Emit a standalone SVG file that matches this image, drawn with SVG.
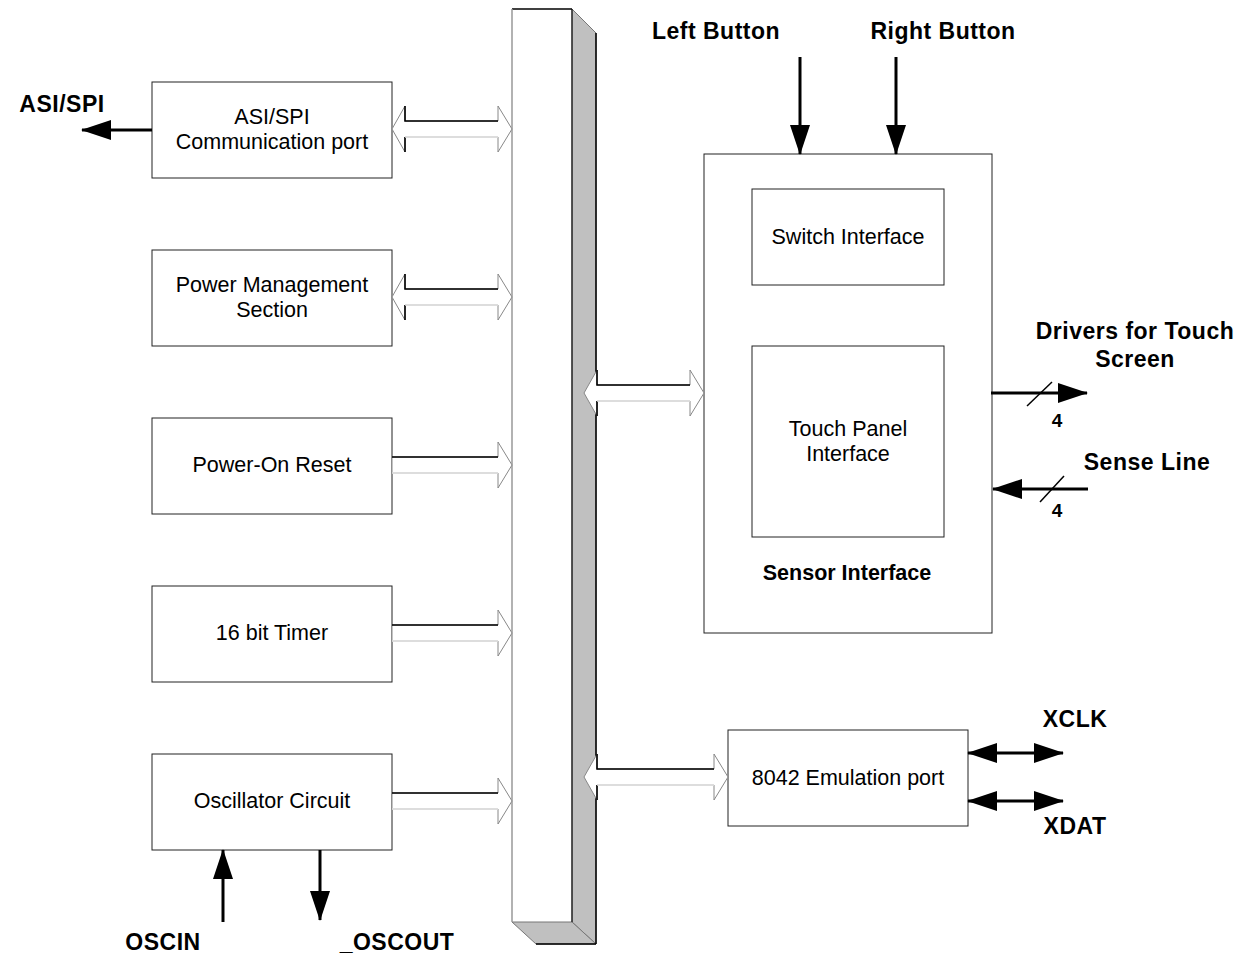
<svg xmlns="http://www.w3.org/2000/svg" width="1246" height="954" viewBox="0 0 1246 954">
<defs>
<marker id="ah" viewBox="0 0 30 20" markerWidth="30" markerHeight="20" refX="29" refY="10" orient="auto-start-reverse" markerUnits="userSpaceOnUse">
<path d="M0,0 L30,10 L0,20 z" fill="#000"/>
</marker>
<style>
.box{fill:#fff;stroke:#222;stroke-width:1}
.t{font-family:"Liberation Sans",Arial,sans-serif;font-size:21.5px;fill:#000;text-anchor:middle}
.b{font-family:"Liberation Sans",Arial,sans-serif;font-size:23px;letter-spacing:0.5px;font-weight:bold;fill:#000;text-anchor:middle}
.sl{stroke:#000;stroke-width:3;fill:none}
.hol{fill:#fff;stroke:#888;stroke-width:1}
.hk{stroke:#000;stroke-width:1.6;fill:none}
.hl{stroke:#e6e6e6;stroke-width:1.5;fill:none}
</style>
</defs>
<rect width="1246" height="954" fill="#fff"/>

<g id="bus">
<rect x="512" y="9" width="60" height="913" fill="#fff"/>
<polygon points="572,9 596,33 596,944 572,922" fill="#c0c0c0" stroke="#777" stroke-width="1"/>
<polygon points="512,922 572,922 596,944 536,944" fill="#c0c0c0" stroke="#777" stroke-width="1"/>
<line x1="512" y1="9" x2="572" y2="9" stroke="#000" stroke-width="1.5"/>
<line x1="512" y1="9" x2="512" y2="922" stroke="#999" stroke-width="1.5"/>
<line x1="572" y1="9" x2="572" y2="922" stroke="#111" stroke-width="1.2"/>
<line x1="596" y1="33" x2="596" y2="944" stroke="#000" stroke-width="1.5"/>
<line x1="536" y1="944" x2="596" y2="944" stroke="#000" stroke-width="1.5"/>
</g>

<g id="asi">
<rect class="box" x="152" y="82" width="240" height="96"/>
<text class="t" x="272" y="124">ASI/SPI</text>
<text class="t" x="272" y="149">Communication port</text>
</g>
<g id="power-mgmt">
<rect class="box" x="152" y="250" width="240" height="96"/>
<text class="t" x="272" y="292">Power Management</text>
<text class="t" x="272" y="317">Section</text>
</g>
<g id="por">
<rect class="box" x="152" y="418" width="240" height="96"/>
<text class="t" x="272" y="472">Power-On Reset</text>
</g>
<g id="timer">
<rect class="box" x="152" y="586" width="240" height="96"/>
<text class="t" x="272" y="640">16 bit Timer</text>
</g>
<g id="osc">
<rect class="box" x="152" y="754" width="240" height="96"/>
<text class="t" x="272" y="808">Oscillator Circuit</text>
</g>

<g id="sensor">
<rect class="box" x="704" y="154" width="288" height="479"/>
<text class="b" x="847" y="580" style="font-size:21.5px;letter-spacing:0">Sensor Interface</text>
</g>
<g id="switch">
<rect class="box" x="752" y="189" width="192" height="96"/>
<text class="t" x="848" y="244">Switch Interface</text>
</g>
<g id="touch">
<rect class="box" x="752" y="346" width="192" height="191"/>
<text class="t" x="848" y="436">Touch Panel</text>
<text class="t" x="848" y="461">Interface</text>
</g>
<g id="emul">
<rect class="box" x="728" y="730" width="240" height="96"/>
<text class="t" x="848" y="785">8042 Emulation port</text>
</g>

<g id="connectors">
<g>
<polygon class="hol" points="392,129 405,106 405,121 498,121 498,106 512,129 498,152 498,137 405,137 405,152"/>
<path class="hk" d="M405,106 V121 H498 M405,137 V152"/>
<path class="hl" d="M405,137 H498"/>
</g>
<g>
<polygon class="hol" points="392,297 405,274 405,289 498,289 498,274 512,297 498,320 498,305 405,305 405,320"/>
<path class="hk" d="M405,274 V289 H498 M405,305 V320"/>
<path class="hl" d="M405,305 H498"/>
</g>
<g>
<polygon class="hol" points="392,457 498,457 498,442 512,465 498,488 498,473 392,473"/>
<path class="hk" d="M392,457 H498"/>
<path class="hl" d="M392,473 H498"/>
</g>
<g>
<polygon class="hol" points="392,625 498,625 498,610 512,633 498,656 498,641 392,641"/>
<path class="hk" d="M392,625 H498"/>
<path class="hl" d="M392,641 H498"/>
</g>
<g>
<polygon class="hol" points="392,793 498,793 498,778 512,801 498,824 498,809 392,809"/>
<path class="hk" d="M392,793 H498"/>
<path class="hl" d="M392,809 H498"/>
</g>
<g>
<polygon class="hol" points="584,393 597,370 597,385 690,385 690,370 704,393 690,416 690,401 597,401 597,416"/>
<path class="hk" d="M597,370 V385 H690 M597,401 V416"/>
<path class="hl" d="M597,401 H690"/>
</g>
<g>
<polygon class="hol" points="584,777 597,754 597,769 714,769 714,754 728,777 714,800 714,785 597,785 597,800"/>
<path class="hk" d="M597,754 V769 H714 M597,785 V800"/>
<path class="hl" d="M597,785 H714"/>
</g>
<line class="sl" x1="152" y1="130" x2="82" y2="130" marker-end="url(#ah)"/>
<line class="sl" x1="800" y1="57" x2="800" y2="154" marker-end="url(#ah)"/>
<line class="sl" x1="896" y1="57" x2="896" y2="154" marker-end="url(#ah)"/>
<line class="sl" x1="223" y1="922" x2="223" y2="850" marker-end="url(#ah)"/>
<line class="sl" x1="320" y1="850" x2="320" y2="920" marker-end="url(#ah)"/>
<line class="sl" x1="991" y1="393" x2="1087" y2="393" marker-end="url(#ah)"/>
<line x1="1027" y1="406" x2="1052" y2="382" stroke="#000" stroke-width="1.5"/>
<line class="sl" x1="1088" y1="489" x2="993" y2="489" marker-end="url(#ah)"/>
<line x1="1040" y1="502" x2="1064" y2="476" stroke="#000" stroke-width="1.5"/>
<line class="sl" x1="968" y1="753" x2="1063" y2="753" marker-start="url(#ah)" marker-end="url(#ah)"/>
<line class="sl" x1="968" y1="801" x2="1063" y2="801" marker-start="url(#ah)" marker-end="url(#ah)"/>
</g>

<g id="labels">
<text class="b" x="62" y="112">ASI/SPI</text>
<text class="b" x="716" y="39">Left Button</text>
<text class="b" x="943" y="39">Right Button</text>
<text class="b" x="1135" y="339">Drivers for Touch</text>
<text class="b" x="1135" y="367">Screen</text>
<text class="b" x="1057" y="427" style="font-size:19px;letter-spacing:0">4</text>
<text class="b" x="1147" y="470">Sense Line</text>
<text class="b" x="1057" y="517" style="font-size:19px;letter-spacing:0">4</text>
<text class="b" x="1075" y="727">XCLK</text>
<text class="b" x="1075" y="834">XDAT</text>
<text class="b" x="163" y="950">OSCIN</text>
<text class="b" x="397" y="950">_OSCOUT</text>
</g>
</svg>
